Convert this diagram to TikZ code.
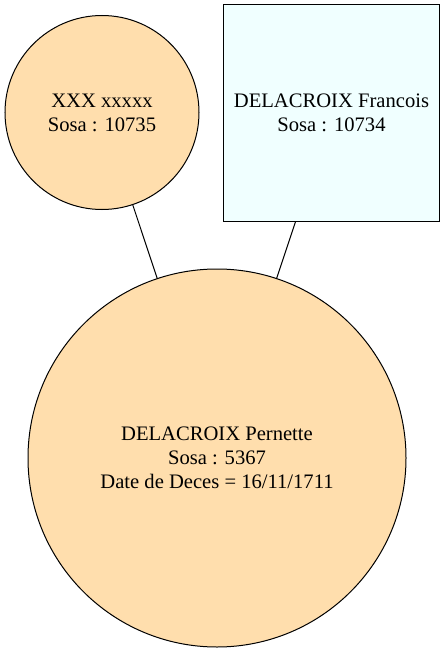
\documentclass[tikz,border=0pt]{standalone}
\usepackage{fontspec}
\setmainfont{Liberation Serif}
\definecolor{navajo}{HTML}{FFDEAD}
\definecolor{azurefill}{HTML}{F0FFFF}
\begin{document}
\begin{tikzpicture}[x=1pt,y=1pt]
        \tikzset{
            person/.style={draw=black,line width=1pt,align=center,inner sep=0pt,
                font=\fontsize{20.6}{24}\selectfont},
            womannode/.style={person,circle,fill=navajo},
            mannode/.style={person,rectangle,fill=azurefill},
        }
        \useasboundingbox (0,0) rectangle (445,-652);
        \node[womannode,minimum size=194] (xxx) at(102,-112.5) {XXX xxxxx\\Sosa : 10735};
        \node[mannode,minimum width=216,minimum height=216] (francois) at(331.5,-113) {DELACROIX Francois\\Sosa : 10734};
        \node[womannode,minimum size=378] (pernette) at(217,-458) {DELACROIX Pernette\\Sosa : 5367\\Date de Deces = 16/11/1711};

        \draw[line width=1pt] (xxx) -- (pernette);
        \draw[line width=1pt] (francois) -- (pernette);
    \end{tikzpicture}
\end{document}
